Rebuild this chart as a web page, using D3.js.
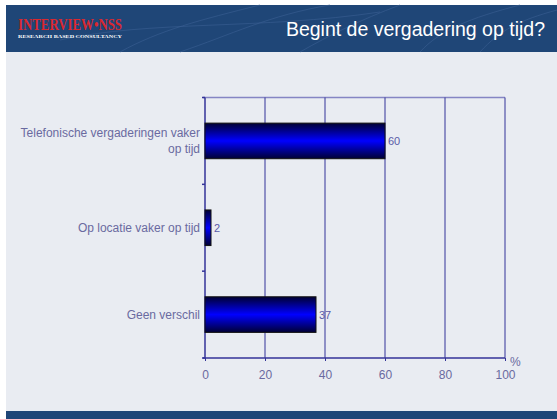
<html lang="nl">
<head>
  <meta charset="UTF-8">
  <title>Begint de vergadering op tijd?</title>
  <style>
    body { margin: 0; background: #fff; }
  </style>
</head>
<body>
  <script src="https://d3js.org/d3.v7.min.js"></script>
  <div id="chart"></div>
  <script>
    // data
    let categories = [["Telefonische vergaderingen vaker", "op tijd"], ["Op locatie vaker op tijd"], ["Geen verschil"]];
    let values = [60, 2, 37];
    let xTicks = [0, 20, 40, 60, 80, 100];

    function translate(x, y) { return 'translate(' + x + ',' + y + ')'; }

    let W = 557, H = 419;
    let plot = { left: 205, right: 505, top: 97.5, bottom: 358 };
    let axisColor = "#333399", textColor = "#6a6aa0";

    let svg = d3.select("#chart").append("svg")
      .attr("width", W).attr("height", H)
      .style("font-family", "Liberation Sans, Arial, sans-serif");

    let defs = svg.append("defs");
    let grad = defs.append("linearGradient").attr("id", "barGrad")
      .attr("x1", 0).attr("y1", 0).attr("x2", 0).attr("y2", 1);
    grad.append("stop").attr("offset", "0%").attr("stop-color", "#000033");
    grad.append("stop").attr("offset", "50%").attr("stop-color", "#0000ff");
    grad.append("stop").attr("offset", "100%").attr("stop-color", "#000033");

    // page background
    svg.append("rect").attr("x", 6).attr("y", 52).attr("width", W - 6).attr("height", 359).attr("fill", "#e9ecf2");

    // header
    let header = svg.append("g");
    header.append("rect").attr("x", 6).attr("y", 5).attr("width", W - 6).attr("height", 47).attr("fill", "#1f4677");
    // faint decorative curves
    let deco = ["M120,52 C160,30 200,20 260,5", "M180,52 C230,35 270,15 330,5", "M300,52 C330,35 360,20 400,5",
      "M60,40 C150,20 260,30 380,12", "M420,52 C440,30 470,18 520,5", "M480,52 C500,30 520,20 557,10"];
    header.selectAll("path.deco").data(deco).enter().append("path")
      .attr("d", d => d).attr("fill", "none").attr("stroke", "#3a5f92").attr("stroke-width", 1).attr("opacity", 0.6);
    header.append("text")
      .attr("x", 18).attr("y", 30)
      .attr("textLength", 104).attr("lengthAdjust", "spacingAndGlyphs")
      .style("font-family", "Liberation Serif, serif").style("font-weight", "bold")
      .style("font-size", "16.5px").attr("fill", "#d9282f")
      .text("INTERVIEW\u2022NSS");
    header.append("text")
      .attr("x", 18).attr("y", 38)
      .attr("textLength", 104).attr("lengthAdjust", "spacingAndGlyphs")
      .style("font-family", "Liberation Serif, serif").style("font-weight", "bold")
      .style("font-size", "4px").attr("fill", "#ffffff")
      .text("RESEARCH BASED CONSULTANCY");
    header.append("text")
      .attr("x", 545).attr("y", 36)
      .attr("text-anchor", "end")
      .style("font-size", "19.5px").attr("fill", "#ffffff")
      .text("Begint de vergadering op tijd?");

    // footer
    svg.append("rect").attr("x", 6).attr("y", 411).attr("width", W - 6).attr("height", 8).attr("fill", "#1f4677");

    // scales
    let x = d3.scaleLinear().domain([0, 100]).range([plot.left, plot.right]);
    let y = d3.scaleBand().domain(d3.range(categories.length)).range([plot.top, plot.bottom]).padding(0);
    let barH = y.bandwidth() * 0.41;

    // top border of plot
    svg.append("line")
      .attr("x1", plot.left - 2).attr("x2", plot.right)
      .attr("y1", plot.top).attr("y2", plot.top)
      .attr("stroke", "#8585c4").attr("stroke-width", 1.5);

    // vertical gridlines
    svg.selectAll("line.grid").data(xTicks.slice(1)).enter().append("line")
      .attr("x1", d => x(d)).attr("x2", d => x(d))
      .attr("y1", plot.top).attr("y2", plot.bottom)
      .attr("stroke", axisColor).attr("stroke-width", 1);

    // x axis
    let xAxis = svg.append("g")
      .attr("transform", translate(0, plot.bottom))
      .call(d3.axisBottom(x).tickValues(xTicks).tickSize(3).tickPadding(9));
    xAxis.select(".domain").attr("stroke", axisColor).attr("stroke-width", 1.5)
      .attr("d", "M" + (plot.left - 2) + ",0H" + plot.right);
    xAxis.selectAll(".tick line").attr("stroke", axisColor);
    xAxis.selectAll(".tick text").attr("fill", textColor).style("font-size", "12px")
      .style("font-family", "Liberation Sans, Arial, sans-serif");

    svg.append("text")
      .attr("x", plot.right + 5).attr("y", plot.bottom + 8)
      .attr("fill", textColor).style("font-size", "12px")
      .text("%");

    // y axis
    let yBounds = [plot.top].concat(d3.range(categories.length).map(i => y(i) + y.step()));
    svg.append("line")
      .attr("x1", plot.left).attr("x2", plot.left)
      .attr("y1", plot.top).attr("y2", plot.bottom)
      .attr("stroke", axisColor).attr("stroke-width", 1.5);
    svg.selectAll("line.ytick").data(yBounds).enter().append("line")
      .attr("x1", plot.left - 3).attr("x2", plot.left)
      .attr("y1", d => d).attr("y2", d => d)
      .attr("stroke", axisColor).attr("stroke-width", 1.5);

    // category labels
    categories.forEach((lines, i) => {
      let cy = y(i) + y.bandwidth() / 2;
      let t = svg.append("text")
        .attr("text-anchor", "end")
        .attr("fill", textColor)
        .style("font-size", "12px");
      lines.forEach((ln, j) => {
        t.append("tspan")
          .attr("x", plot.left - 5)
          .attr("y", cy + 4.5 + (j - (lines.length - 1) / 2) * 16)
          .text(ln);
      });
    });

    // bars
    svg.selectAll("rect.bar").data(values).enter().append("rect")
      .attr("x", x(0))
      .attr("y", (d, i) => y(i) + (y.bandwidth() - barH) / 2)
      .attr("width", d => x(d) - x(0))
      .attr("height", barH)
      .attr("fill", "url(#barGrad)")
      .attr("stroke", "#111111").attr("stroke-width", 1);

    // value labels
    svg.selectAll("text.val").data(values).enter().append("text")
      .attr("x", d => x(d) + 3)
      .attr("y", (d, i) => y(i) + y.bandwidth() / 2 + 4)
      .attr("fill", "#5a5aa8")
      .style("font-size", "11px")
      .text(d => d);
  </script>
</body>
</html>
